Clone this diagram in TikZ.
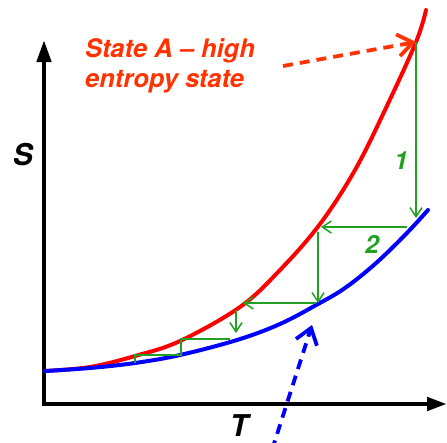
\documentclass[tikz,border=0pt]{standalone}
\usepackage{fontspec}
\setsansfont{TeX Gyre Heros}
\usetikzlibrary{arrows.meta,positioning}
\definecolor{curveRed}{RGB}{255,0,0}
\definecolor{curveBlue}{RGB}{0,0,255}
\definecolor{labelOrange}{RGB}{255,51,0}
\definecolor{stepGreen}{RGB}{34,160,34}

\begin{document}
\begin{tikzpicture}[x=1pt, y=-1pt,
  axis/.style={line width=4.5pt, {Triangle[length=22pt,width=14pt]}-{Triangle[length=20pt,width=13pt]}},
  curve/.style={line width=4pt, line cap=round},
  stepline/.style={stepGreen, line width=1.5pt},
  steparr/.style={stepline, -{Straight Barb[length=9pt,width=12pt]}},
  pointer/.style={line width=3.8pt, dash pattern=on 10pt off 7pt,
                  -{Straight Barb[length=15pt,width=22pt]}},
  axlabel/.style={font=\sffamily\bfseries\itshape\fontsize{30}{30}\selectfont},
  statelabel/.style={labelOrange, inner sep=0pt, anchor=base west,
                     font=\sffamily\bfseries\itshape\fontsize{25.5}{30}\selectfont},
  steplabel/.style={stepGreen, font=\sffamily\bfseries\itshape\fontsize{25}{25}\selectfont}
]
  \useasboundingbox (0,0) rectangle (447,442);

  % axes
  \coordinate (yTop) at (44,40);
  \coordinate (origin) at (44,404);
  \coordinate (xEnd) at (447,404);
  \draw[axis] (yTop) -- (origin) -- (xEnd);
  \node[axlabel, anchor=base] (S) at (23,165) {S};
  \node[axlabel, anchor=base] (T) at (239,436) {T};

  % the two curves
  \draw[curve, curveRed] plot[smooth, tension=0.6] coordinates
    {(45,371) (90,367) (135,356) (180,341) (240,307) (280,270)
     (320,224) (355,170) (385,110) (416,42) (426,10)};
  \draw[curve, curveBlue] plot[smooth, tension=0.6] coordinates
    {(45,371) (90,368) (135,363) (180,355) (237,340) (280,324)
     (318,304) (345,288) (375,264) (405,235) (428,210)};

  % staircase
  \coordinate (ptA) at (416,42);
  \coordinate (s1) at (416,218);
  \coordinate (s2a) at (407,227);
  \coordinate (s2b) at (321,227);
  \coordinate (s3a) at (318,232);
  \coordinate (s3b) at (318,303);
  \coordinate (s4a) at (316,303);
  \coordinate (s4b) at (243,303);
  \coordinate (s5a) at (236,310);
  \coordinate (s5b) at (236,333);
  \draw[steparr] (ptA) -- (s1);
  \draw[steparr] (s2a) -- (s2b);
  \draw[steparr] (s3a) -- (s3b);
  \draw[steparr] (s4a) -- (s4b);
  \draw[steparr] (s5a) -- (s5b);
  \draw[stepline] (230,339) -- (181,339) -- (181,355) -- (135,355) -- (135,363);
  \node[steplabel] (one) at (401,161) {1};
  \node[steplabel] (two) at (372,244) {2};

  % labels and pointers
  \node[statelabel] (stateTop) at (85,57) {State A -- high};
  \node[statelabel] (stateBot) at (85,87) {entropy state};
  \coordinate (redTail) at (283,66);
  \draw[pointer, labelOrange] (redTail) -- (ptA);
  \coordinate (blueTail) at (272,450);
  \coordinate (ptB) at (312,325);
  \draw[pointer, curveBlue] (blueTail) -- (ptB);
\end{tikzpicture}
\end{document}
